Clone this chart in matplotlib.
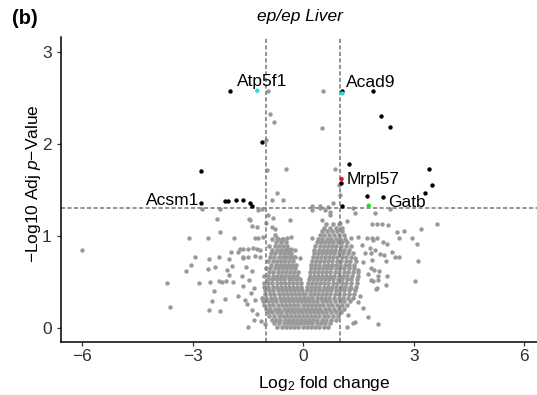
import matplotlib
matplotlib.use("Agg")
import matplotlib.pyplot as plt

plt.rcParams['font.family'] = ['Liberation Sans', 'DejaVu Sans']
plt.rcParams['mathtext.fontset'] = 'custom'
plt.rcParams['mathtext.rm'] = 'Liberation Sans'
plt.rcParams['mathtext.it'] = 'Liberation Sans:italic'

# ---------------- data ----------------
# dense non-significant core: rows of -log10 adj p with their log2 fold changes
core_rows = {
    0.01: [-0.70, -0.58, -0.46, -0.35, -0.24, -0.13, -0.02, 0.09, 0.20, 0.31, 0.42, 0.55, 0.68],
    0.05: [-0.80, -0.66, -0.53, -0.41, -0.30, -0.19, -0.08, 0.03, 0.14, 0.25, 0.36, 0.47, 0.60, 0.74],
    0.09: [-0.86, -0.74, -0.62, -0.50, -0.39, -0.28, -0.17, -0.06, 0.05, 0.16, 0.27, 0.38, 0.50, 0.62, 0.76, 0.90],
    0.13: [-0.92, -0.79, -0.67, -0.55, -0.44, -0.33, -0.22, -0.11, 0.00, 0.11, 0.22, 0.33, 0.44, 0.56, 0.68, 0.81, 0.95],
    0.17: [-0.97, -0.84, -0.72, -0.60, -0.48, -0.37, -0.26, -0.15, -0.04, 0.07, 0.18, 0.29, 0.40, 0.51, 0.63, 0.75, 0.88, 1.02],
    0.21: [-1.02, -0.89, -0.77, -0.65, -0.53, -0.42, -0.31, -0.20, -0.09, 0.02, 0.13, 0.24, 0.35, 0.46, 0.58, 0.70, 0.83, 0.96, 1.10],
    0.25: [-1.06, -0.93, -0.81, -0.69, -0.57, -0.46, -0.35, -0.24, -0.13, -0.02, 0.09, 0.20, 0.31, 0.42, 0.54, 0.66, 0.78, 0.91, 1.04, 1.18],
    0.29: [-1.10, -0.97, -0.85, -0.73, -0.61, -0.50, -0.39, -0.28, -0.17, -0.06, 0.05, 0.16, 0.27, 0.38, 0.50, 0.62, 0.74, 0.86, 0.99, 1.12, 1.26],
    0.33: [-1.13, -1.00, -0.88, -0.76, -0.64, -0.53, -0.42, -0.31, -0.20, -0.09, 0.03, 0.14, 0.25, 0.36, 0.47, 0.59, 0.71, 0.83, 0.96, 1.09, 1.22, 1.34],
    0.37: [-1.03, -0.91, -0.79, -0.67, -0.56, -0.45, -0.34, -0.23, -0.12, -0.02, 0.06, 0.17, 0.28, 0.39, 0.50, 0.62, 0.74, 0.86, 0.98, 1.10, 1.23, 1.38],
    0.41: [-1.05, -0.93, -0.81, -0.69, -0.58, -0.47, -0.36, -0.25, -0.14, -0.03, 0.09, 0.20, 0.31, 0.42, 0.53, 0.64, 0.76, 0.88, 1.00, 1.12, 1.25, 1.40],
    0.45: [-1.07, -0.95, -0.83, -0.71, -0.60, -0.49, -0.38, -0.27, -0.16, -0.05, 0.11, 0.22, 0.33, 0.44, 0.55, 0.66, 0.78, 0.90, 1.02, 1.14, 1.27, 1.42],
    0.49: [-1.08, -0.96, -0.84, -0.72, -0.61, -0.50, -0.39, -0.28, -0.17, -0.06, 0.13, 0.24, 0.35, 0.46, 0.57, 0.68, 0.80, 0.92, 1.04, 1.16, 1.29, 1.45],
    0.53: [-0.97, -0.85, -0.73, -0.62, -0.51, -0.40, -0.30, -0.19, -0.08, 0.15, 0.26, 0.37, 0.48, 0.59, 0.70, 0.82, 0.94, 1.06, 1.18, 1.31, 1.47],
    0.57: [-1.07, -0.95, -0.83, -0.71, -0.60, -0.49, -0.38, -0.27, -0.16, 0.17, 0.28, 0.39, 0.50, 0.61, 0.72, 0.84, 0.96, 1.08, 1.20, 1.33, 1.49],
    0.61: [-0.93, -0.81, -0.69, -0.58, -0.47, -0.36, -0.25, -0.15, 0.19, 0.30, 0.41, 0.52, 0.63, 0.74, 0.86, 0.98, 1.10, 1.22, 1.35, 1.50],
    0.65: [-1.02, -0.90, -0.78, -0.66, -0.55, -0.44, -0.33, -0.22, 0.21, 0.32, 0.43, 0.54, 0.65, 0.76, 0.88, 1.00, 1.12, 1.24, 1.37],
    0.69: [-0.87, -0.75, -0.63, -0.52, -0.41, -0.30, -0.20, 0.22, 0.33, 0.44, 0.55, 0.66, 0.77, 0.89, 1.01, 1.13, 1.25, 1.38],
    0.73: [-0.95, -0.83, -0.71, -0.60, -0.49, -0.38, -0.28, 0.24, 0.35, 0.46, 0.57, 0.68, 0.79, 0.91, 1.03, 1.15, 1.28, 1.42],
    0.77: [-0.91, -0.79, -0.67, -0.56, -0.46, -0.35, -0.27, 0.26, 0.37, 0.48, 0.59, 0.70, 0.81, 0.93, 1.05, 1.17, 1.30],
    0.81: [-0.88, -0.76, -0.64, -0.53, -0.42, -0.33, 0.28, 0.39, 0.50, 0.61, 0.72, 0.84, 0.96, 1.08, 1.21, 1.35],
    0.85: [-0.84, -0.72, -0.60, -0.50, -0.39, 0.30, 0.42, 0.53, 0.64, 0.75, 0.87, 0.99, 1.11, 1.24],
    0.89: [-0.92, -0.78, -0.66, -0.55, -0.44, 0.33, 0.45, 0.56, 0.67, 0.78, 0.90, 1.02, 1.15, 1.30],
    0.93: [-0.74, -0.60, -0.48, 0.36, 0.48, 0.60, 0.71, 0.82, 0.94, 1.06, 1.20],
    0.97: [-0.84, -0.68, -0.55, 0.40, 0.52, 0.64, 0.76, 0.88, 1.00, 1.13],
    1.01: [-0.78, 0.45, 0.57, 0.70, 0.83, 0.96, 1.10],
    1.05: [0.50, 0.64, 0.78, 0.92, 1.06],
    1.09: [0.55, 0.72, 0.88, 1.04],
    1.13: [0.62, 0.80, 0.98],
}

# scattered non-significant genes (log2FC, -log10 adj p)
scatter_fc = [
    -6.00, -3.70, -3.61, -3.10, -2.93, -3.05, -3.19, -2.83, -2.59, -2.55, -2.58, -2.41, -2.30, -2.33,
    -2.25, -2.52, -2.42, -2.47, -2.56, -2.27, -2.12, -2.30, -2.20, -2.09, -1.90, -2.07, -2.03, -1.93,
    -2.01, -1.96, -1.78, -1.72, -1.88, -1.63, -1.67, -1.65, -1.78, -1.59, -1.54, -1.49, -2.74, -2.26,
    -1.48, -1.22, -1.13, -0.95, -0.82, -0.36, -1.45, -1.40, -1.27, -1.00, -0.86, -0.77, -1.31, -1.22,
    -1.09, -0.72, -0.59, -0.45, -0.32, 0.23, -1.63, -1.49, -1.36, -1.27, -1.18, -0.45, -0.32, -0.23,
    -1.63, -1.49, -1.31, -1.18, -0.35, -0.22, -0.09, -1.55, -1.40, -1.48, -1.35, -1.42, -1.30, -1.38,
    -1.25, -1.15, -1.05, -1.35,
    -0.95, 0.54, -0.90, -0.80, 0.50, -1.00, -0.98, -0.48, 0.86, -0.72, -0.86, -0.54, 0.23, 0.45,
    0.66, 0.82, 1.36, 1.41, 1.95, 0.98, 1.00, 0.23, 0.45, 0.73, 0.50, 0.73, 1.00, 1.18, 0.59,
    1.31, 1.50, 1.72, 1.59, 1.81, 1.68, 1.40, 1.63, 1.86, 1.49, 1.77, 1.99, 1.31, 1.22, 1.40,
    2.37, 1.86, 2.00, 2.13, 2.29, 3.20, 3.62, 2.54, 2.74, 2.61, 2.95, 3.08, 1.86, 1.90, 2.00,
    2.16, 2.28, 1.95, 2.42, 1.84, 2.08, 2.20, 2.49, 2.61, 2.25, 3.11, 1.84, 1.91, 2.07, 2.04,
    2.27, 1.84, 1.90, 2.04, 2.24, 3.04, 1.97, 2.02, 1.18, 1.36, 1.77, 1.55, 1.62, 1.48,
]
scatter_p = [
    0.845, 0.49, 0.23, 0.975, 0.775, 0.69, 0.62, 0.49, 0.975, 0.745, 0.645, 0.66, 0.77, 1.18,
    1.04, 0.50, 0.40, 0.29, 0.195, 0.18, 0.32, 0.51, 0.50, 0.51, 0.50, 0.63, 0.58, 0.67,
    0.745, 0.83, 0.83, 0.855, 0.975, 0.76, 0.565, 0.46, 0.35, 0.30, 0.26, 0.008, 1.29, 1.29,
    1.18, 1.28, 1.29, 1.23, 1.20, 1.17, 1.17, 1.11, 1.10, 1.14, 1.10, 1.08, 0.98, 0.98,
    0.99, 0.98, 0.97, 0.98, 0.99, 0.975, 0.86, 0.86, 0.87, 0.86, 0.85, 0.86, 0.86, 0.85,
    0.77, 0.77, 0.78, 0.77, 0.77, 0.77, 0.76, 0.66, 0.62, 0.52, 0.44, 0.38, 0.30, 0.20,
    0.15, 0.08, 0.04, 0.09,
    2.58, 2.58, 2.33, 2.24, 2.17, 2.04, 1.72, 1.73, 1.73, 1.47, 1.39, 1.39, 1.33, 1.33,
    1.32, 1.36, 1.30, 1.25, 1.25, 1.55, 1.45, 1.28, 1.30, 1.26, 1.17, 1.23, 1.14, 1.16, 1.28,
    0.975, 0.99, 0.975, 0.90, 0.87, 0.81, 0.76, 0.72, 0.74, 0.63, 0.59, 0.43, 0.43, 0.14, 0.07,
    1.29, 1.13, 1.13, 1.13, 1.12, 1.08, 1.13, 1.04, 1.06, 0.975, 0.975, 0.91, 0.98, 0.96, 0.975,
    0.93, 0.91, 0.85, 0.83, 0.81, 0.80, 0.79, 0.77, 0.775, 0.73, 0.73, 0.65, 0.63, 0.62, 0.57,
    0.56, 0.52, 0.51, 0.52, 0.465, 0.51, 0.42, 0.04, 0.01, 0.05, 0.12, 0.35, 0.22, 0.28,
]

# significant genes (black)
sig_fc = [-1.99, 1.06, 1.89, 2.10, 2.36, -1.13, -2.77, 1.25, 1.02, 1.72, 2.17, 1.06,
          -2.77, -2.13, -2.04, -1.83, -1.63, -1.45, -1.40, 3.42, 3.49, 3.31]
sig_p = [2.58, 2.58, 2.58, 2.31, 2.19, 2.02, 1.71, 1.78, 1.58, 1.43, 1.42, 1.33,
         1.36, 1.38, 1.38, 1.39, 1.39, 1.36, 1.33, 1.73, 1.55, 1.47]

# highlighted genes
hl_names = ["Atp5f1", "Acad9", "Mrpl57", "Gatb"]
hl_fc = [-1.25, 1.06, 1.04, 1.78]
hl_p = [2.58, 2.55, 1.62, 1.33]
hl_colors = ["#22DDEE", "#22DDEE", "#E8102A", "#22DD22"]

# labels (gene name, text position)
lab_names = ["Atp5f1", "Acad9", "Mrpl57", "Gatb", "Acsm1"]
lab_x = [-1.81, 1.16, 1.18, 2.31, -4.26]
lab_y = [2.63, 2.62, 1.565, 1.315, 1.34]

fc_cut = [-1.0, 1.0]
p_cut = 1.301

xticks = [-6, -3, 0, 3, 6]
yticks = [0, 1, 2, 3]

# ---------------- plot ----------------
fig = plt.figure(figsize=(5.37, 3.95), dpi=100)
ax = fig.add_axes([0.113, 0.135, 0.887, 0.771])

core_x = [x for y, xs in core_rows.items() for x in xs]
core_y = [y for y, xs in core_rows.items() for x in xs]

gray = "#999999"
ax.scatter(core_x, core_y, s=11, c=gray, linewidths=0, zorder=2)
ax.scatter(scatter_fc, scatter_p, s=10, c=gray, linewidths=0, zorder=2)

dash = (0, (2.5, 1.4))
for v in fc_cut:
    ax.axvline(v, color="#808080", lw=1.2, linestyle=dash, zorder=2.5)
ax.axhline(p_cut, color="#808080", lw=1.2, linestyle=dash, zorder=2.5)

ax.scatter(sig_fc, sig_p, s=10, c="black", linewidths=0, zorder=3)
ax.scatter(hl_fc, hl_p, s=10, c=hl_colors, linewidths=0, zorder=3.5)

for name, tx, ty in zip(lab_names, lab_x, lab_y):
    ax.text(tx, ty, name, fontsize=12.5, ha="left", va="baseline", color="black", zorder=4)

ax.set_xlim(-6.59, 6.35)
ax.set_ylim(-0.149, 3.163)
ax.set_xticks(xticks)
ax.set_yticks(yticks)

for s in ["top", "right"]:
    ax.spines[s].set_visible(False)
for s in ["left", "bottom"]:
    ax.spines[s].set_linewidth(1.1)
    ax.spines[s].set_color("black")

ax.tick_params(axis="both", length=3, width=0.9, color="#333333",
               labelsize=12.5, labelcolor="#303030")
ax.tick_params(axis="x", pad=2)
ax.tick_params(axis="y", pad=3.5)

ax.set_xlabel("Log$_2$ fold change", fontsize=12.5)
ax.set_ylabel("\u2212Log10 Adj $\\mathit{p}$\u2212Value", fontsize=12.5)
ax.xaxis.set_label_coords(0.553, -0.105)
ax.yaxis.set_label_coords(-0.037, 0.52)

fig.text(300 / 537, 1 - 21.5 / 395, "ep/ep Liver", fontsize=12.5, style="italic",
         ha="center", va="baseline")
fig.text(12 / 537, 1 - 24 / 395, "(b)", fontsize=14.5, fontweight="bold",
         ha="left", va="baseline")

fig.savefig("out.png", dpi=100)
